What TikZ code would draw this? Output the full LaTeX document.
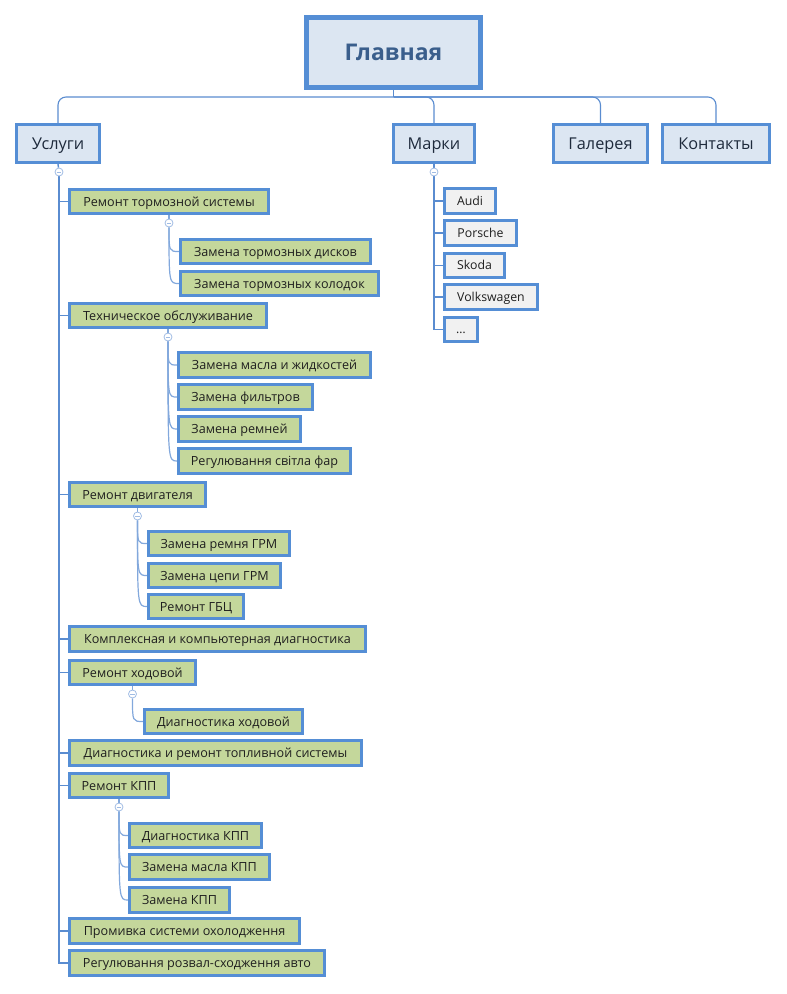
\documentclass[tikz,border=0pt]{standalone}
\usepackage{fontspec}
\setmainfont{Open Sans}
\usetikzlibrary{backgrounds}
\definecolor{bxline}{RGB}{85,142,213}
\definecolor{lonefill}{RGB}{220,230,242}
\definecolor{grnfill}{RGB}{196,215,155}
\definecolor{gryfill}{RGB}{241,241,241}
\definecolor{maintxt}{RGB}{58,94,140}
\definecolor{lonetxt}{RGB}{30,42,60}
\definecolor{conncol}{RGB}{90,140,208}
\definecolor{curvcol}{RGB}{130,168,220}
\definecolor{circcol}{RGB}{160,188,228}
\newcommand\bx[7]{%
  \pgfmathsetmacro\bxw{#4-#2-3}\pgfmathsetmacro\bxh{#5-#3-3}%
  \node[#6, minimum width=\bxw pt, minimum height=\bxh pt] (#1) at ({(#2+#4)/2},{(#3+#5)/2}) {#7};}
\tikzset{
  basebox/.style={draw=bxline, line width=3pt, inner sep=0pt, text=black!88, text depth=0pt},
  mainbox/.style={basebox, line width=5.5pt, fill=lonefill, text=maintxt, font=\fontsize{23}{26}\selectfont\bfseries, text height=16.4pt},
  lonebox/.style={basebox, fill=lonefill, text=lonetxt, font=\fontsize{16.3}{19}\selectfont, text height=11.6pt},
  grnbox/.style={basebox, fill=grnfill, font=\fontsize{12.6}{14}\selectfont, text height=9pt},
  grybox/.style={basebox, fill=gryfill, font=\fontsize{12.3}{14}\selectfont, text height=8.8pt},
  conn/.style={draw=conncol, line width=1.1pt},
  trunk/.style={draw=conncol, line width=1.4pt},
  curv/.style={draw=curvcol, line width=1.2pt},
  circ/.style={circle, draw=circcol, fill=white, line width=0.8pt, inner sep=0pt, minimum size=8pt,
    path picture={\draw[circcol, line width=0.9pt] ([xshift=-2.2pt]path picture bounding box.center) -- ([xshift=2.2pt]path picture bounding box.center);}}
}
\begin{document}
\begin{tikzpicture}[x=1pt,y=-1pt]
\useasboundingbox (0,0) rectangle (787,994);
% top level
\bx{main}{305}{16}{482}{89}{mainbox}{Главная}
\bx{uslugi}{15}{123}{101}{164}{lonebox}{Услуги}
\bx{marki}{392}{123}{476}{164}{lonebox}{Марки}
\bx{galer}{552}{123}{649}{164}{lonebox}{Галерея}
\bx{kontakt}{661}{123}{771}{164}{lonebox}{Контакты}
% services
\bx{s1}{68}{188}{270}{215}{grnbox}{Ремонт тормозной системы}
\bx{s1a}{179}{238}{372}{265}{grnbox}{Замена тормозных дисков}
\bx{s1b}{179}{270}{380}{297}{grnbox}{Замена тормозных колодок}
\bx{s2}{68}{302}{268}{329}{grnbox}{Техническое обслуживание}
\bx{s2a}{177}{351}{372}{379}{grnbox}{Замена масла и жидкостей}
\bx{s2b}{177}{383}{314}{411}{grnbox}{Замена фильтров}
\bx{s2c}{177}{415}{302}{443}{grnbox}{Замена ремней}
\bx{s2d}{177}{447}{352}{475}{grnbox}{Регулювання світла фар}
\bx{s3}{68}{481}{207}{508}{grnbox}{Ремонт двигателя}
\bx{s3a}{147}{530}{291}{557}{grnbox}{Замена ремня ГРМ}
\bx{s3b}{147}{562}{282}{589}{grnbox}{Замена цепи ГРМ}
\bx{s3c}{147}{593}{245}{620}{grnbox}{Ремонт ГБЦ}
\bx{s4}{68}{625}{367}{653}{grnbox}{Комплексная и компьютерная диагностика}
\bx{s5}{68}{659}{197}{686}{grnbox}{Ремонт ходовой}
\bx{s5a}{143}{708}{304}{735}{grnbox}{Диагностика ходовой}
\bx{s6}{68}{739}{363}{767}{grnbox}{Диагностика и ремонт топливной системы}
\bx{s7}{68}{772}{170}{799}{grnbox}{Ремонт КПП}
\bx{s7a}{128}{822}{263}{849}{grnbox}{Диагностика КПП}
\bx{s7b}{128}{853}{271}{881}{grnbox}{Замена масла КПП}
\bx{s7c}{128}{886}{231}{914}{grnbox}{Замена КПП}
\bx{s8}{68}{917}{301}{945}{grnbox}{Промивка системи охолодження}
\bx{s9}{68}{949}{326}{977}{grnbox}{Регулювання розвал-сходження авто}
% brands
\bx{mk1}{443}{187}{497}{215}{grybox}{Audi}
\bx{mk2}{443}{219}{518}{247}{grybox}{Porsche}
\bx{mk3}{443}{252}{506}{279}{grybox}{Skoda}
\bx{mk4}{443}{283}{539}{311}{grybox}{Volkswagen}
\bx{mk5}{443}{316}{479}{343}{grybox}{…}
% collapse circles
\node[circ] (u0) at (59,172) {};
\node[circ] (m0) at (434,172) {};
\node[circ] (c1) at ([yshift=-8pt]s1.south) {};
\node[circ] (c2) at ([yshift=-8pt]s2.south) {};
\node[circ] (c3) at ([yshift=-8pt]s3.south) {};
\node[circ] (c5) at ([yshift=-8pt]s5.south) {};
\node[circ] (c7) at ([yshift=-8pt]s7.south) {};
\coordinate (j) at (393.5,97);
\begin{pgfonlayer}{background}
  \draw[conn] (main.south) -- (j);
  \draw[conn, rounded corners=8pt] (j) -| (uslugi.north);
  \draw[conn, rounded corners=8pt] (j) -| (marki.north);
  \draw[conn, rounded corners=8pt] (j) -| (galer.north);
  \draw[conn, rounded corners=8pt] (j) -| (kontakt.north);
  % services trunk
  \draw[trunk] (uslugi.south) -- (u0);
  \foreach \t in {s1,s2,s3,s4,s5,s6,s7,s8,s9}
    \draw[trunk] (u0.south) |- (\t.west);
  % brands trunk
  \draw[trunk] (marki.south) -- (m0);
  \foreach \t in {mk1,mk2,mk3,mk4,mk5}
    \draw[trunk] (m0.south) |- (\t.west);
  % sub-branches
  \foreach \p/\c/\kids in {s1/c1/{s1a,s1b}, s2/c2/{s2a,s2b,s2c,s2d}, s3/c3/{s3a,s3b,s3c}, s5/c5/{s5a}, s7/c7/{s7a,s7b,s7c}}{
    \draw[curv] (\p.south) -- (\c);
    \foreach \k in \kids
      \draw[curv] (\c.south) .. controls (\c.south |- \k.west) .. (\k.west);
  }
\end{pgfonlayer}
\end{tikzpicture}
\end{document}
